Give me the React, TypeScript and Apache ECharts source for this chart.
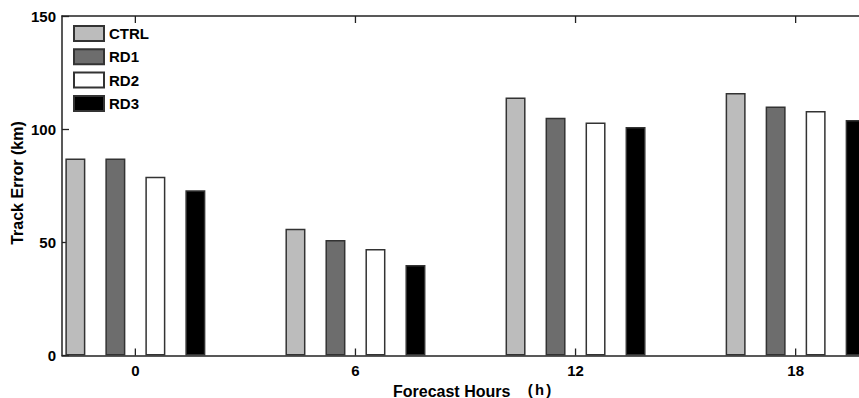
import React, { useEffect, useRef } from "react";
import * as echarts from "echarts";

const hours = [0, 6, 12, 18];
const seriesNames = ["CTRL", "RD1", "RD2", "RD3"];
const ctrl = [87, 56, 114, 116];
const rd1 = [87, 51, 105, 110];
const rd2 = [79, 47, 103, 108];
const rd3 = [73, 40, 101, 104];
const yMax = 150;

const FONT = "'Liberation Sans', Arial, Helvetica, sans-serif";
const fills = ["#bcbcbc", "#6d6d6d", "#ffffff", "#000000"];

export default function App() {
  const ref = useRef<HTMLDivElement>(null);
  useEffect(() => {
    document.body.style.margin = "0";
    const chart = echarts.init(ref.current!, null, { renderer: "svg" });
    const values = [ctrl, rd1, rd2, rd3];
    const axisLine = { show: true, onZero: false, lineStyle: { color: "#222", width: 1.5 } };
    const tickStyle = { color: "#222", width: 1.3 };
    const xBase = {
      type: "value",
      min: -2,
      max: 20,
      splitLine: { show: false },
      axisLine,
      axisTick: { show: false },
    };
    chart.setOption({
      animation: false,
      grid: { left: 62, top: 16, width: 807, height: 339.5 },
      legend: {
        orient: "vertical",
        left: 73,
        top: 25,
        padding: 0,
        itemWidth: 30,
        itemHeight: 15,
        itemGap: 6.3,
        icon: "rect",
        data: seriesNames,
        textStyle: { fontFamily: FONT, fontSize: 15, fontWeight: "bold", color: "#000" },
      },
      xAxis: [
        {
          ...xBase,
          position: "bottom",
          axisLabel: {
            show: true,
            customValues: hours,
            margin: 7,
            fontFamily: FONT,
            fontSize: 15,
            fontWeight: "bold",
            color: "#000",
          },
        },
        {
          ...xBase,
          position: "top",
          axisLabel: { show: false },
        },
      ],
      yAxis: [
        {
          type: "value",
          min: 0,
          max: yMax,
          interval: 50,
          position: "left",
          splitLine: { show: false },
          axisLine,
          axisTick: { show: true, inside: true, length: 7, lineStyle: tickStyle },
          axisLabel: {
            margin: 6,
            fontFamily: FONT,
            fontSize: 15,
            fontWeight: "bold",
            color: "#000",
          },
        },
        {
          type: "value",
          min: 0,
          max: yMax,
          interval: 50,
          position: "right",
          splitLine: { show: false },
          axisLine,
          axisTick: { show: true, inside: true, length: 7, lineStyle: tickStyle },
          axisLabel: { show: false },
        },
      ],
      series: [
        ...seriesNames.map((name, k) => ({
          name,
          type: "bar",
          xAxisIndex: 0,
          yAxisIndex: 0,
          barWidth: 20,
          barGap: "100%",
          itemStyle: { color: fills[k], borderColor: "#333", borderWidth: 1.5 },
          data: hours.map((h, i) => [h, values[k][i]]),
        })),
        {
          name: "xticks",
          type: "custom",
          xAxisIndex: 0,
          yAxisIndex: 0,
          clip: false,
          silent: true,
          z: 10,
          encode: { x: 0, y: 1 },
          data: hours.map((h) => [h, 0]),
          renderItem: (_params: any, api: any) => {
            const x = api.value(0);
            const b = api.coord([x, 0]);
            const t = api.coord([x, yMax]);
            const st = { stroke: tickStyle.color, lineWidth: tickStyle.width };
            return {
              type: "group",
              children: [
                { type: "line", shape: { x1: b[0], y1: b[1], x2: b[0], y2: b[1] - 7 }, style: st },
                { type: "line", shape: { x1: t[0], y1: t[1], x2: t[0], y2: t[1] + 7 }, style: st },
              ],
            };
          },
        },
      ],
      graphic: [
        {
          type: "text",
          x: 393,
          y: 391,
          style: {
            text: "Forecast Hours",
            fontFamily: FONT,
            fontSize: 16,
            fontWeight: "bold",
            fill: "#000",
            align: "left",
            verticalAlign: "middle",
          },
        },
        {
          type: "text",
          x: 526,
          y: 391,
          style: {
            text: "(h)",
            fontFamily: "'Liberation Mono', 'DejaVu Sans Mono', monospace",
            fontSize: 15,
            fontWeight: "bold",
            fill: "#000",
            align: "left",
            verticalAlign: "middle",
          },
        },
        {
          type: "text",
          x: 17,
          y: 183,
          rotation: Math.PI / 2,
          style: {
            text: "Track Error (km)",
            fontFamily: FONT,
            fontSize: 16,
            fontWeight: "bold",
            fill: "#000",
            align: "center",
            verticalAlign: "middle",
          },
        },
      ],
    });
    return () => chart.dispose();
  }, []);
  return (
    <div style={{ width: 859, height: 398, overflow: "hidden", position: "relative", background: "#fff" }}>
      <div ref={ref} style={{ width: 900, height: 398 }} />
    </div>
  );
}
